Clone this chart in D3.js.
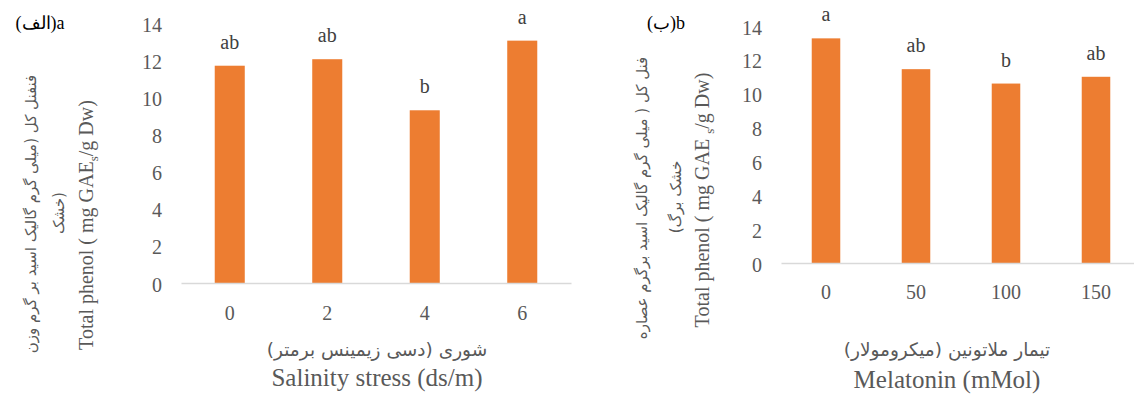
<!DOCTYPE html>
<html>
<head>
<meta charset="utf-8">
<script src="https://cdn.jsdelivr.net/npm/d3@7"></script>
<style>
    body { margin: 0; background: #fff; }
    svg { display: block; }
    .serif { font-family: "Liberation Serif", "DejaVu Serif", serif; }
    .fa { font-family: "DejaVu Sans", sans-serif; }
</style>
</head>
<body>
<div id="chart"></div>
<script>
// data
const salinity_levels = ["0", "2", "4", "6"];
const salinity_values = [11.7, 12.05, 9.3, 13.05];
const salinity_letters = ["ab", "ab", "b", "a"];

const melatonin_levels = ["0", "50", "100", "150"];
const melatonin_values = [13.27, 11.45, 10.6, 11.0];
const melatonin_letters = ["a", "ab", "b", "ab"];

const y_ticks = [0, 2, 4, 6, 8, 10, 12, 14];

const width = 1134, height = 403;
const bar_colour = "#ED7D31";

let svg = d3.select("#chart")
            .append("svg")
            .attr("width", width)
            .attr("height", height);

function draw_panel(opt)
{
    let x = d3.scaleBand()
              .domain(opt.categories)
              .range(opt.x_range)
              .padding(0);
    let y = d3.scaleLinear()
              .domain([0, 14])
              .range(opt.y_range);
    const bar_w = x.bandwidth() * opt.bar_ratio;

    let g = svg.append("g");

    // y tick labels (no axis line in the original)
    let y_axis = g.append("g")
                  .attr("transform", "translate(" + opt.y_label_x + ",0)")
                  .call(d3.axisLeft(y).tickValues(y_ticks).tickSize(0).tickPadding(0));
    y_axis.select(".domain").remove();
    y_axis.selectAll("text")
          .attr("class", "serif")
          .attr("font-size", 20)
          .attr("fill", "#595959")
          .attr("dy", "0.4em");

    // bars
    g.selectAll("rect.bar")
        .data(opt.values)
        .join("rect")
        .attr("class", "bar")
        .attr("x", (d, i) => x(opt.categories[i]) + (x.bandwidth() - bar_w) / 2)
        .attr("y", d => y(d))
        .attr("width", bar_w)
        .attr("height", d => y(0) - y(d))
        .attr("fill", bar_colour);

    // significance letters
    g.selectAll("text.letter")
        .data(opt.values)
        .join("text")
        .attr("class", "letter serif")
        .attr("x", (d, i) => x(opt.categories[i]) + x.bandwidth() / 2)
        .attr("y", d => y(d) - 17)
        .attr("text-anchor", "middle")
        .attr("font-size", 20)
        .attr("fill", "#404040")
        .text((d, i) => opt.letters[i]);

    // x axis line + labels
    let x_axis = g.append("g")
                  .attr("transform", "translate(0," + y(0) + ")")
                  .call(d3.axisBottom(x).tickSize(0).tickPadding(opt.x_pad));
    x_axis.select(".domain")
          .attr("stroke", "#D9D9D9")
          .attr("stroke-width", 1.5);
    x_axis.selectAll("text")
          .attr("class", "serif")
          .attr("font-size", 20)
          .attr("fill", "#595959");

    // x titles
    g.append("text")
        .attr("class", "fa")
        .attr("x", opt.title_x)
        .attr("y", 356)
        .attr("text-anchor", "middle")
        .attr("direction", "rtl")
        .attr("font-size", 18.5)
        .attr("fill", "#595959")
        .text(opt.title_fa);
    g.append("text")
        .attr("class", "serif")
        .attr("x", opt.title_x)
        .attr("y", opt.title_en_y)
        .attr("text-anchor", "middle")
        .attr("font-size", 25)
        .attr("fill", "#595959")
        .text(opt.title_en);

    // rotated y titles
    let en = g.append("text")
              .attr("class", "serif")
              .attr("transform", "translate(" + opt.y_en[0] + "," + opt.y_en[1] + ") rotate(-90)")
              .attr("text-anchor", "middle")
              .attr("font-size", 20)
              .attr("fill", "#595959");
    en.append("tspan").text(opt.y_en_parts[0]);
    en.append("tspan").attr("font-size", 13).attr("dy", 5).text("s");
    en.append("tspan").attr("dy", -5).text(opt.y_en_parts[1]);

    opt.y_fa.forEach(function (line) {
        g.append("text")
            .attr("class", "fa")
            .attr("transform", "translate(" + line.x + "," + line.y + ") rotate(-90)")
            .attr("text-anchor", "middle")
            .attr("direction", "rtl")
            .attr("font-size", 15)
            .attr("fill", "#595959")
            .text(line.text);
    });

    // panel tag
    g.append("text")
        .attr("class", "serif")
        .attr("x", opt.tag_x)
        .attr("y", 29)
        .attr("text-anchor", "middle")
        .attr("font-size", 18)
        .attr("fill", "#000")
        .text(opt.tag);
}

draw_panel({
    categories: salinity_levels,
    values: salinity_values,
    letters: salinity_letters,
    x_range: [181, 571],
    y_range: [283, 23],
    bar_ratio: 0.308,
    y_label_x: 162,
    x_pad: 23,
    title_x: 377,
    title_en_y: 386,
    title_fa: "شوری (دسی زیمینس برمتر)",
    title_en: "Salinity stress (ds/m)",
    y_en: [93, 225],
    y_en_parts: ["Total phenol ( mg GAE", "/g Dw)"],
    y_fa: [
        {x: 36, y: 214, text: "فنفنل کل (میلی گرم گالیک اسید بر گرم وزن"},
        {x: 64, y: 213, text: "(خشک"}
    ],
    tag_x: 40,
    tag: "(الف)a"
});

draw_panel({
    categories: melatonin_levels,
    values: melatonin_values,
    letters: melatonin_letters,
    x_range: [781, 1141],
    y_range: [263, 26],
    bar_ratio: 0.317,
    y_label_x: 762,
    x_pad: 22,
    title_x: 947,
    title_en_y: 388,
    title_fa: "تیمار ملاتونین (میکرومولار)",
    title_en: "Melatonin (mMol)",
    y_en: [709, 200],
    y_en_parts: ["Total phenol ( mg GAE ", "/g Dw)"],
    y_fa: [
        {x: 647, y: 198, text: "فنل کل ( میلی گرم گالیک اسید برگرم  عصاره"},
        {x: 681, y: 197, text: "خشک برگ)"}
    ],
    tag_x: 666,
    tag: "(ب)b"
});
</script>
</body>
</html>
